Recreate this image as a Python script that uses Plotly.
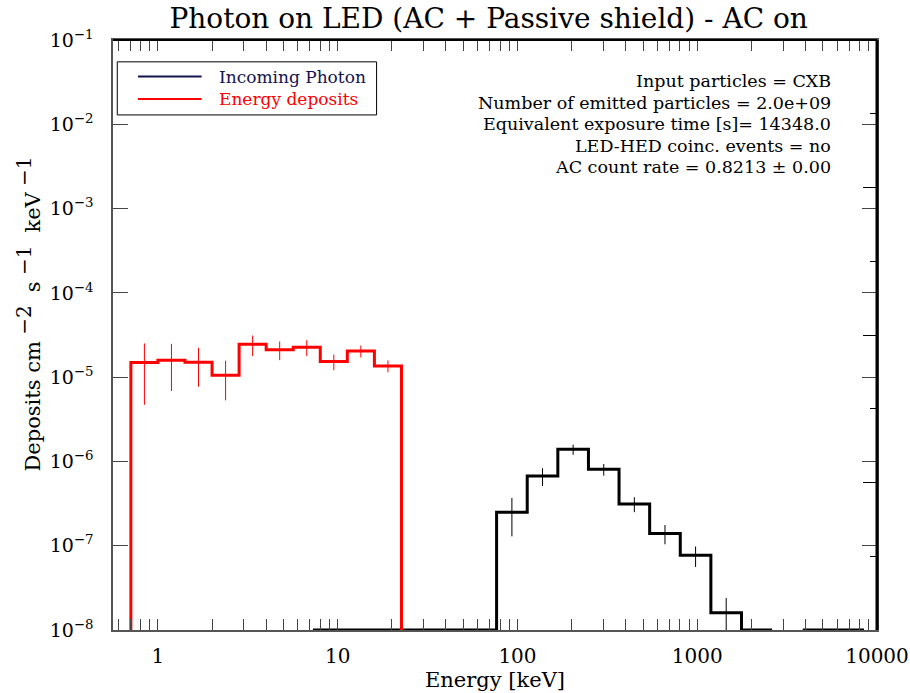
import numpy as np
import plotly.graph_objects as go

# ---- data -------------------------------------------------------------
# Energy deposits on the LED (red histogram), keV bin edges
dep_edges = [0.707, 1.0, 1.414, 2.0, 2.828, 4.0, 5.657, 8.0, 11.31, 16.0, 22.63]
dep_rate = [1.49e-5, 1.585e-5, 1.50e-5, 1.05e-5, 2.45e-5,
            2.12e-5, 2.26e-5, 1.53e-5, 2.04e-5, 1.36e-5]
dep_err = [1.02e-5, 0.90e-5, 0.73e-5, 0.52e-5, 0.67e-5,
           0.53e-5, 0.48e-5, 0.32e-5, 0.33e-5, 0.22e-5]

# Incoming photons (black histogram), keV bin edges; None = empty bin
inc_edges = [7.28, 10.77, 15.94, 23.60, 34.93, 51.70, 76.53, 113.3, 167.7,
             248.2, 367.3, 543.7, 804.7, 1191.0, 1763.0, 2610.0, 3863.0,
             5716.0, 8462.0]
inc_rate = [0, 0, 0, 0, 0, 0, 2.49e-7, 6.7e-7, 1.39e-6, 8.05e-7, 3.13e-7,
            1.40e-7, 7.7e-8, 1.6e-8, 0, None, 0, 0]
inc_err = [0, 0, 0, 0, 0, 0, 1.2e-7, 1.6e-7, 1.9e-7, 1.27e-7, 6.3e-8,
           3.6e-8, 2.1e-8, 0.8e-8, 0, None, 0, 0]

x_tick_vals = [1, 10, 100, 1000, 10000]
x_tick_text = ["1", "10", "100", "1000", "10000"]
y_exponents = [-8, -7, -6, -5, -4, -3, -2, -1]

info_lines = [
    "Input particles = CXB",
    "Number of emitted particles = 2.0e+09",
    "Equivalent exposure time [s]= 14348.0",
    "LED-HED coinc. events = no",
    "AC count rate = 0.8213 \u00b1 0.00",
]

Y_MIN, Y_MAX = 1e-8, 1e-1
X_LOG_RANGE = [-0.25, 4.0]
FONT = "DejaVu Serif"


def step_path(edges, rate, drop_ends):
    """Histogram outline; values below the axis floor sit on the floor."""
    xs, ys = [], []
    if drop_ends:
        xs.append(edges[0]); ys.append(Y_MIN)
    for i, v in enumerate(rate):
        if v is None:
            xs.append(None); ys.append(None)
            continue
        v = max(v, Y_MIN)
        xs += [edges[i], edges[i + 1]]
        ys += [v, v]
    if drop_ends:
        xs.append(edges[-1]); ys.append(Y_MIN)
    return xs, ys


def err_points(edges, rate, err):
    cx, cy, ce = [], [], []
    for i, v in enumerate(rate):
        if v:
            cx.append(np.sqrt(edges[i] * edges[i + 1]))
            cy.append(v)
            ce.append(err[i])
    return cx, cy, ce


fig = go.Figure()

# incoming photon spectrum
ix, iy = step_path(inc_edges, inc_rate, drop_ends=False)
fig.add_trace(go.Scatter(x=ix, y=iy, mode="lines",
                         line=dict(color="black", width=3),
                         connectgaps=False, hoverinfo="skip"))
ex, ey, ee = err_points(inc_edges, inc_rate, inc_err)
fig.add_trace(go.Scatter(x=ex, y=ey, mode="markers",
                         marker=dict(size=1, color="rgba(0,0,0,0)"),
                         error_y=dict(type="data", array=ee, visible=True,
                                      color="black", thickness=1, width=0),
                         hoverinfo="skip"))

# energy deposits
dx, dy = step_path(dep_edges, dep_rate, drop_ends=True)
fig.add_trace(go.Scatter(x=dx, y=dy, mode="lines",
                         line=dict(color="red", width=3), hoverinfo="skip"))
ex, ey, ee = err_points(dep_edges, dep_rate, dep_err)
fig.add_trace(go.Scatter(x=ex, y=ey, mode="markers",
                         marker=dict(size=1, color="rgba(0,0,0,0)"),
                         error_y=dict(type="data", array=ee, visible=True,
                                      color="red", thickness=1, width=0),
                         hoverinfo="skip"))

minor_x = [m * 10 ** d for d in range(-1, 4) for m in range(2, 10)]

fig.update_layout(
    width=910, height=693,
    margin=dict(l=113, r=33, t=40, b=63, autoexpand=False),
    paper_bgcolor="white", plot_bgcolor="white",
    showlegend=False,
    font=dict(family=FONT, color="black", size=18),
    title=dict(text="Photon on LED (AC + Passive shield) - AC on",
               x=0.537, xanchor="center", y=0.974, yanchor="middle",
               font=dict(size=28, family=FONT, color="black")),
    xaxis=dict(
        type="log", range=X_LOG_RANGE, automargin=False,
        tickmode="array", tickvals=x_tick_vals, ticktext=x_tick_text,
        ticks="inside", ticklen=11, tickwidth=1, tickcolor="#444",
        minor=dict(tickmode="array", tickvals=minor_x, ticks="inside",
                   ticklen=5, tickwidth=1, tickcolor="#444", showgrid=False),
        showline=True, linecolor="#555", linewidth=1.5, mirror="allticks",
        showgrid=False, zeroline=False,
        tickfont=dict(size=20), ticklabelstandoff=7,
        title=dict(text="Energy [keV]", font=dict(size=21), standoff=0),
    ),
    yaxis=dict(
        type="log", range=[np.log10(Y_MIN), np.log10(Y_MAX)], automargin=False,
        tickmode="array",
        tickvals=[10.0 ** e for e in y_exponents],
        ticktext=["10<sup>\u2212%d</sup>" % -e for e in y_exponents],
        ticks="inside", ticklen=15, tickwidth=1, tickcolor="#444",
        showline=True, linecolor="#555", linewidth=1.5, mirror="allticks",
        showgrid=False, zeroline=False,
        tickfont=dict(size=19), ticklabelstandoff=14,
    ),
    # secondary linear scale on the right frame edge
    yaxis2=dict(
        overlaying="y", side="right", range=[0, 4], dtick=1, automargin=False,
        ticks="inside", ticklen=14, tickwidth=1, tickcolor="black",
        minor=dict(dtick=0.5, ticks="inside", ticklen=7, tickwidth=1,
                   tickcolor="black", showgrid=False),
        showticklabels=False, showgrid=False, zeroline=False, showline=False,
    ),
)

# anchor for the secondary scale
fig.add_trace(go.Scatter(x=[None], y=[None], yaxis="y2", hoverinfo="skip"))

# y-axis title with full-height exponents
sup = '<sup><span style="font-size:20px">%s</span></sup>'
y_title = ("Deposits cm" + sup % " \u22122 " + " s" + sup % " \u22121 "
           + " keV" + sup % " \u22121")
fig.add_annotation(text=y_title, xref="paper", yref="paper",
                   x=-0.111, y=0.535, xanchor="center", yanchor="middle",
                   textangle=-90, showarrow=False, font=dict(size=21))

# black top and right frame edges
fig.add_shape(type="line", xref="paper", yref="paper", x0=0, x1=1, y0=1, y1=1,
              line=dict(color="black", width=2))
fig.add_shape(type="line", xref="paper", yref="paper", x0=1, x1=1, y0=0, y1=1,
              line=dict(color="black", width=3))

# legend box
fig.add_shape(type="rect", xref="paper", yref="paper",
              x0=0.0056, x1=0.345, y0=0.873, y1=0.963,
              line=dict(color="black", width=1), fillcolor="white")
legend_items = [("Incoming Photon", "#141450", 0.938),
                ("Energy deposits", "red", 0.900)]
for label, col, yy in legend_items:
    fig.add_shape(type="line", xref="paper", yref="paper",
                  x0=0.0327, x1=0.116, y0=yy, y1=yy,
                  line=dict(color=col, width=2))
    fig.add_annotation(text=label, xref="paper", yref="paper",
                       x=0.1357, y=yy, xanchor="left", yanchor="middle",
                       showarrow=False, font=dict(size=17, color=col))

# run information
info_y = [0.930, 0.894, 0.857, 0.820, 0.784]
for txt, yy in zip(info_lines, info_y):
    fig.add_annotation(text=txt, xref="paper", yref="paper",
                       x=0.943, y=yy, xanchor="right", yanchor="middle",
                       showarrow=False, font=dict(size=17.5))

fig.write_html("out.html")
